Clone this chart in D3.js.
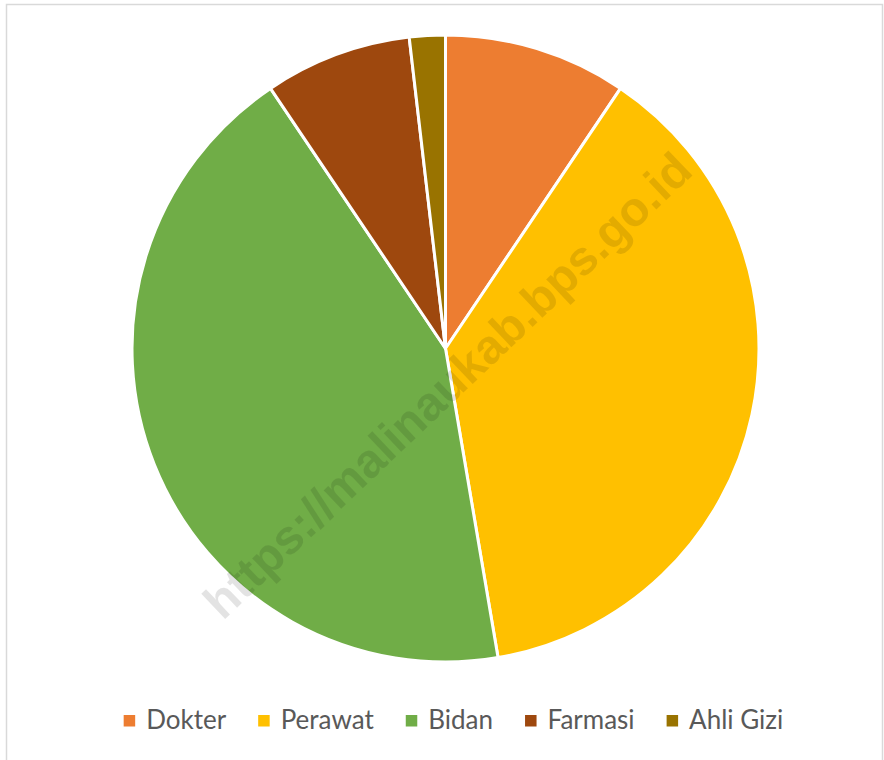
<!DOCTYPE html>
<html>

<head>
    <title>Tenaga Kesehatan</title>
    <script src="https://d3js.org/d3.v7.min.js"></script>
    <style>
        body { margin: 0; background: #fff; }
    </style>
</head>

<body>

    <svg width="884" height="760" id="mainSvg"></svg>
    <script>
        // data
        const categories = ["Dokter", "Perawat", "Bidan", "Farmasi", "Ahli Gizi"];
        const values = [51, 205, 234, 41, 10];
        const colors = ["#ED7D31", "#FFC000", "#70AD47", "#9E480E", "#997300"];
        const watermarkText = "https://malinaukab.bps.go.id";

        const mainSvg = d3.select("#mainSvg");
        const width = +mainSvg.attr("width");
        const height = +mainSvg.attr("height");

        // chart border
        mainSvg.append("rect")
            .attr("x", 6.5).attr("y", 4.5)
            .attr("width", 876).attr("height", 760)
            .attr("fill", "#fff")
            .attr("stroke", "#d9d9d9")
            .attr("stroke-width", 1.5);

        const cx = 445.5, cy = 348.5, radius = 313.5;

        const data = categories.map((c, i) => ({ name: c, value: values[i] }));
        const color = d3.scaleOrdinal().domain(categories).range(colors);

        const pie = d3.pie().value(d => d.value).sort(null);
        const arc = d3.arc().innerRadius(0).outerRadius(radius);

        const g = mainSvg.append("g")
            .attr("transform", `translate(${cx}, ${cy})`);

        g.selectAll("path")
            .data(pie(data))
            .join("path")
            .attr("d", arc)
            .attr("fill", d => color(d.data.name))
            .attr("stroke", "#fff")
            .attr("stroke-width", 3)
            .attr("stroke-linejoin", "round");

        // watermark
        mainSvg.append("text")
            .attr("transform", "translate(450, 388) rotate(-43.5)")
            .attr("text-anchor", "middle")
            .attr("dominant-baseline", "middle")
            .attr("font-family", "Liberation Sans, Arial, sans-serif")
            .attr("font-weight", "bold")
            .attr("font-size", 48)
            .attr("fill", "#000")
            .attr("fill-opacity", 0.11)
            .text(watermarkText);

        // legend
        const legend = mainSvg.append("g");
        const sq = 11.5, sqGap = 11, itemGap = 32;
        const items = legend.selectAll("g")
            .data(categories)
            .join("g");

        items.append("rect")
            .attr("width", sq).attr("height", sq)
            .attr("y", 715)
            .attr("fill", d => color(d));

        items.append("text")
            .attr("x", sq + sqGap)
            .attr("y", 729)
            .attr("font-family", "Lato, sans-serif")
            .attr("font-size", 26)
            .attr("fill", "#595959")
            .text(d => d);

        let x = 0;
        const widths = [];
        items.each(function () {
            widths.push(d3.select(this).select("text").node().getComputedTextLength());
        });
        const total = d3.sum(widths) + categories.length * (sq + sqGap) + (categories.length - 1) * itemGap;
        x = 453.5 - total / 2;
        items.each(function (d, i) {
            d3.select(this).attr("transform", `translate(${x}, 0)`);
            x += sq + sqGap + widths[i] + itemGap;
        });
    </script>
</body>

</html>
